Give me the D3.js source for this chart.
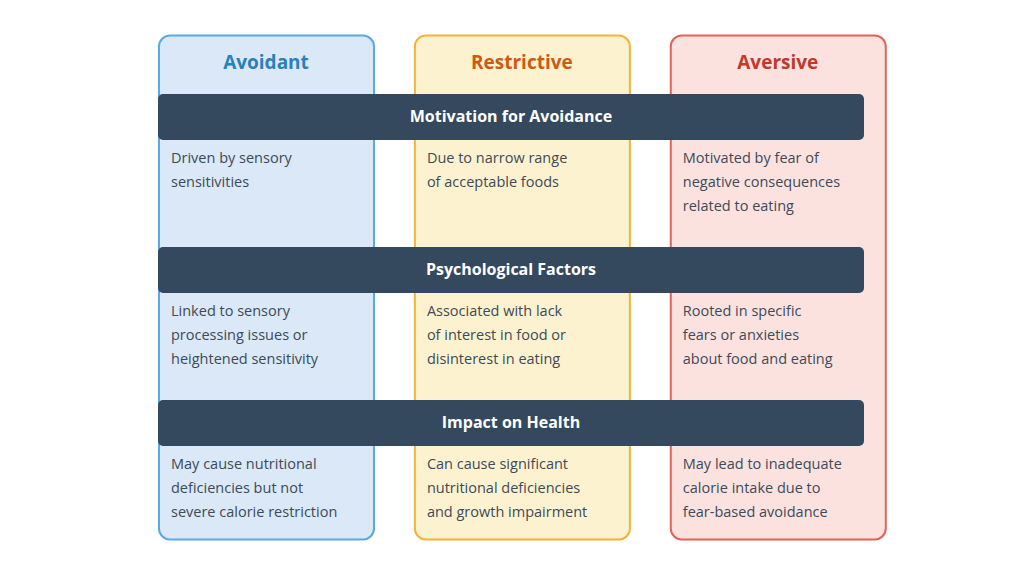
<!DOCTYPE html>
<html><head><meta charset="utf-8">
<script src="https://cdn.jsdelivr.net/npm/d3@7"></script>
<style>body{margin:0;background:#fff}</style></head>
<body><svg id="c" width="1024" height="576"></svg>
<script>
const categories = ["Avoidant", "Restrictive", "Aversive"];
const sections = ["Motivation for Avoidance", "Psychological Factors", "Impact on Health"];
const cellText = [
  [["Driven by sensory","sensitivities"],["Due to narrow range","of acceptable foods"],["Motivated by fear of","negative consequences","related to eating"]],
  [["Linked to sensory","processing issues or","heightened sensitivity"],["Associated with lack","of interest in food or","disinterest in eating"],["Rooted in specific","fears or anxieties","about food and eating"]],
  [["May cause nutritional","deficiencies but not","severe calorie restriction"],["Can cause significant","nutritional deficiencies","and growth impairment"],["May lead to inadequate","calorie intake due to","fear-based avoidance"]]
];
const fills = ["#dae8f8","#fdf2cf","#fbe2df"];
const strokes = ["#5aa9e0","#f2b33d","#e2625a"];
const titleColors = ["#2a7fbf","#cc5a12","#c0392b"];

const svg = d3.select("#c");
const font = "'Open Sans', 'Liberation Sans', Arial, sans-serif";
const x = d3.scaleBand().domain(categories).range([158, 892]).paddingInner(0.1315).paddingOuter(0);
const colW = 216;
const y = d3.scaleBand().domain(sections).range([94, 553]).paddingInner(0).paddingOuter(0);

categories.forEach((c,i)=>{
  svg.append("rect").attr("x",x(c)+1).attr("y",35.5).attr("width",colW-1).attr("height",504)
    .attr("rx",11).attr("fill",fills[i]).attr("stroke",strokes[i]).attr("stroke-width",2);
  svg.append("text").attr("x",x(c)+colW/2).attr("y",69).attr("text-anchor","middle")
    .attr("font-family",font).attr("font-size",19).attr("font-weight",700).attr("fill",titleColors[i]).text(c);
});
sections.forEach((s,j)=>{
  const y0 = y(s);
  svg.append("rect").attr("x",158).attr("y",y0).attr("width",706).attr("height",46).attr("rx",5).attr("fill","#34495e");
  svg.append("text").attr("x",511).attr("y",y0+28).attr("text-anchor","middle").attr("font-family",font)
    .attr("font-size",16).attr("font-weight",700).attr("fill","#fff").text(s);
  categories.forEach((c,i)=>{
    const t = svg.append("text").attr("font-family",font).attr("font-size",14.5).attr("fill","#3d4a57");
    cellText[j][i].forEach((line,k)=>{
      t.append("tspan").attr("x",x(c)+13).attr("y",y0+69+k*24).text(line);
    });
  });
});
</script></body></html>
